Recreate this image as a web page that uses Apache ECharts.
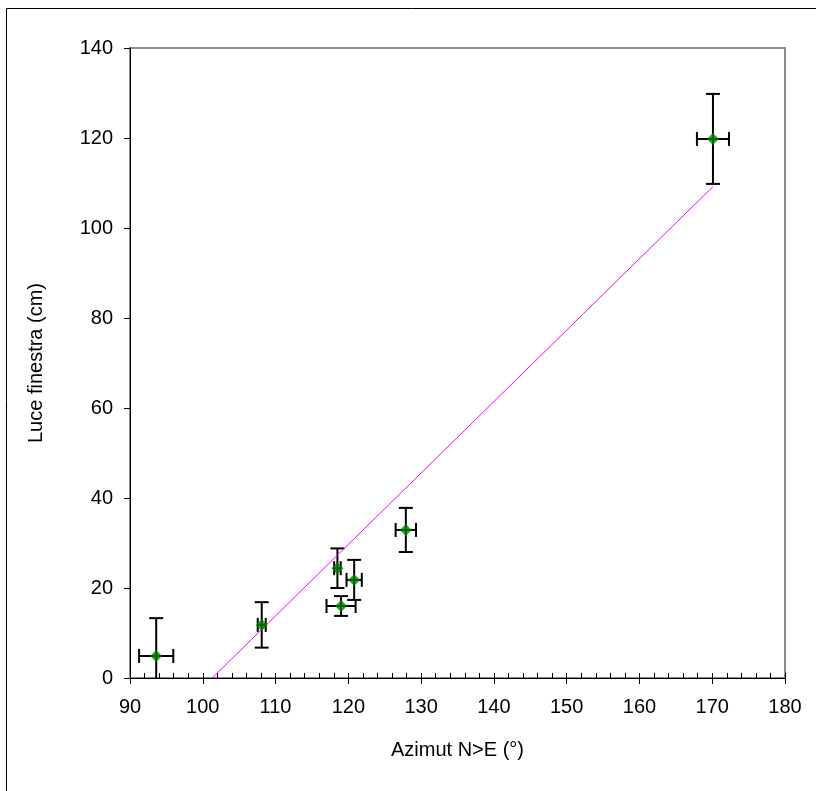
<!DOCTYPE html>
<html>
<head>
<meta charset="utf-8">
<script src="https://cdn.jsdelivr.net/npm/echarts@6/dist/echarts.min.js"></script>
<style>
  html, body { margin: 0; padding: 0; background: #fff; }
  #chart { width: 816px; height: 791px; }
</style>
</head>
<body>
<div id="chart"></div>
<script>
// dati
const azimut = [93.6, 108.1, 118.5, 120.8, 119.0, 127.9, 170.1];
const luce = [4.9, 11.8, 24.4, 21.8, 16.0, 32.9, 119.8];
const errAzimut = [2.35, 0.55, 0.45, 1.05, 2.0, 1.4, 2.2];
const errLuce = [8.4, 5.05, 4.4, 4.45, 2.2, 4.9, 10.0];
// linea di tendenza (estremi)
const trendX = [101.3, 170.1];
const trendY = [0, 109.2];

const font = 'Liberation Sans, Arial, sans-serif';
const chart = echarts.init(document.getElementById('chart'));

const points = azimut.map((x, i) => [x, luce[i], errAzimut[i], errLuce[i]]);
const cap = 7;

const option = {
  animation: false,
  textStyle: { fontFamily: font, color: '#000' },
  graphic: [{
    type: 'rect',
    shape: { x: 6.5, y: 8.5, width: 900, height: 900 },
    style: { fill: 'none', stroke: '#000', lineWidth: 1 },
    z: 0
  }],
  grid: {
    left: 130, right: 31, top: 48, bottom: 113,
    show: true, borderColor: '#8c8c8c', borderWidth: 2, backgroundColor: 'transparent'
  },
  xAxis: [{
    type: 'value', min: 90, max: 180, interval: 10,
    name: 'Azimut N>E (°)', nameLocation: 'middle', nameGap: 62,
    nameTextStyle: { fontSize: 20, color: '#000', fontFamily: font },
    axisLine: { show: true, onZero: false, lineStyle: { color: '#000', width: 1 } },
    axisTick: { show: true, length: 6, lineStyle: { color: '#000' } },
    axisLabel: { fontSize: 20, color: '#000', margin: 19, fontFamily: font },
    splitLine: { show: false }
  }, {
    // tacche secondarie interne
    type: 'value', min: 90, max: 180, interval: 2, position: 'bottom',
    axisLine: { show: false },
    axisTick: { show: true, inside: true, length: 5, lineStyle: { color: '#000' } },
    axisLabel: { show: false },
    splitLine: { show: false }
  }],
  yAxis: {
    type: 'value', min: 0, max: 140, interval: 20,
    name: 'Luce finestra (cm)', nameLocation: 'middle', nameGap: 84,
    nameTextStyle: { fontSize: 20, color: '#000', fontFamily: font },
    axisLine: { show: true, lineStyle: { color: '#000', width: 1 } },
    axisTick: { show: true, length: 6, lineStyle: { color: '#000' } },
    axisLabel: { fontSize: 20, color: '#000', margin: 17, fontFamily: font },
    splitLine: { show: false }
  },
  series: [{
    type: 'custom',
    clip: true,
    data: points,
    z: 2,
    renderItem: (params, api) => {
      const x = api.value(0), y = api.value(1), ex = api.value(2), ey = api.value(3);
      const top = api.coord([x, y + ey]);
      const bot = api.coord([x, y - ey]);
      const lft = api.coord([x - ex, y]);
      const rgt = api.coord([x + ex, y]);
      const st = { stroke: '#000', lineWidth: 2 };
      const line = (x1, y1, x2, y2) => ({ type: 'line', shape: { x1, y1, x2, y2 }, style: st });
      return {
        type: 'group',
        children: [
          line(top[0], top[1], bot[0], bot[1]),
          line(top[0] - cap, top[1], top[0] + cap, top[1]),
          line(bot[0] - cap, bot[1], bot[0] + cap, bot[1]),
          line(lft[0], lft[1], rgt[0], rgt[1]),
          line(lft[0], lft[1] - cap, lft[0], lft[1] + cap),
          line(rgt[0], rgt[1] - cap, rgt[0], rgt[1] + cap)
        ]
      };
    }
  }, {
    type: 'line',
    data: trendX.map((x, i) => [x, trendY[i]]),
    symbol: 'none',
    lineStyle: { color: '#ff00ff', width: 1 },
    z: 3
  }, {
    type: 'scatter',
    data: azimut.map((x, i) => [x, luce[i]]),
    symbol: 'diamond',
    symbolSize: [12, 12],
    itemStyle: { color: '#008000' },
    z: 4
  }]
};

chart.setOption(option);
</script>
</body>
</html>
